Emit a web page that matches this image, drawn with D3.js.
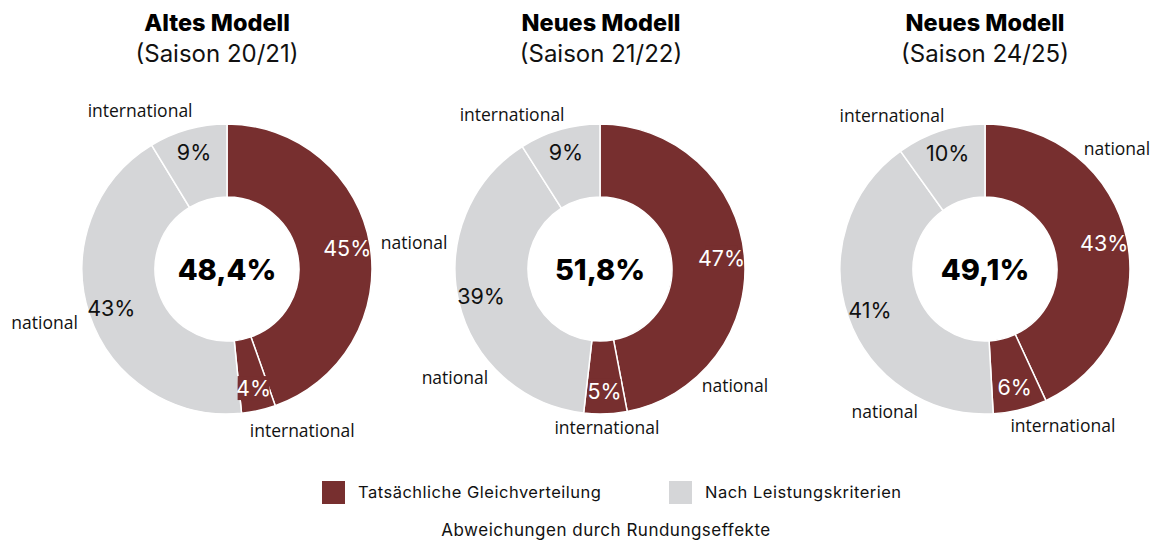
<!DOCTYPE html>
<html>
<head>
<meta charset="utf-8">
<script src="https://cdn.jsdelivr.net/npm/d3@7"></script>
<style>
  body { margin: 0; background: #ffffff; }
  svg { display: block; }
</style>
</head>
<body>
<svg id="chart" width="1154" height="541"></svg>
<script>
// --- Daten ---
const titles = ["Altes Modell", "Neues Modell", "Neues Modell"];
const seasons = ["(Saison 20/21)", "(Saison 21/22)", "(Saison 24/25)"];
const sliceNames = ["national", "international", "national", "international"];
const sliceGroups = ["Tatsächliche Gleichverteilung", "Tatsächliche Gleichverteilung", "Nach Leistungskriterien", "Nach Leistungskriterien"];
const values2021 = [44.6, 3.8, 42.9, 8.7];
const values2122 = [47.0, 4.8, 39.2, 9.0];
const values2425 = [43.1, 6.0, 41.0, 9.9];
const centerValues = [48.4, 51.8, 49.1];
const legendItems = ["Tatsächliche Gleichverteilung", "Nach Leistungskriterien"];
const note = "Abweichungen durch Rundungseffekte";

// Platzierung der äußeren Beschriftungen (Winkel in Grad, Abstand vom Mittelpunkt)
const outerAngles = [[81.8, 155, 253.8, 331.3], [130.7, 177.5, 233.3, 330.4], [47.5, 153.4, 215.2, 328.9]];
const outerDist = [[189, 178, 190, 181], [178, 158, 181, 178], [179, 174, 174, 180]];

const allValues = [values2021, values2122, values2425];
const centerX = [227, 600, 985];
const titleX = [217, 601, 985];
const centerY = 269;

const svg = d3.select("#chart");

const color = d3.scaleOrdinal()
    .domain(legendItems)
    .range(["#772f2f", "#d5d6d8"]);

const pie = d3.pie().sort(null).value(d => d);
const arc = d3.arc().innerRadius(72).outerRadius(145);
const labelArc = d3.arc().innerRadius(122).outerRadius(122);
const fmt = v => d3.format(".1f")(v).replace(".", ",") + "%";

allValues.forEach((vals, i) => {
    // Titel
    svg.append("text")
        .attr("x", titleX[i])
        .attr("y", 31)
        .attr("text-anchor", "middle")
        .style("font-family", "Inter, sans-serif")
        .style("font-weight", "800")
        .style("font-size", "23.5px")
        .style("fill", "#000")
        .text(titles[i]);

    svg.append("text")
        .attr("x", titleX[i])
        .attr("y", 62)
        .attr("text-anchor", "middle")
        .style("font-family", "Inter, sans-serif")
        .style("font-size", "24px")
        .style("fill", "#111")
        .text(seasons[i]);

    const g = svg.append("g")
        .attr("transform", `translate(${centerX[i]},${centerY})`);

    const arcs = pie(vals);

    g.selectAll(".slice")
        .data(arcs)
        .enter()
        .append("path")
        .attr("class", "slice")
        .attr("d", arc)
        .style("fill", (d, j) => color(sliceGroups[j]))
        .style("stroke", "#fff")
        .style("stroke-width", 1.5);

    // Prozent-Beschriftung in den Segmenten
    const lab = g.selectAll(".pct")
        .data(arcs)
        .enter()
        .append("g")
        .attr("class", "pct")
        .attr("transform", d => `translate(${labelArc.centroid(d)})`);

    lab.filter((d, j) => j < 2)
        .append("rect")
        .attr("x", -16)
        .attr("y", -12)
        .attr("width", 32)
        .attr("height", 24)
        .style("fill", color(legendItems[0]));

    lab.append("text")
        .attr("text-anchor", "middle")
        .attr("dominant-baseline", "central")
        .style("font-family", "Inter, sans-serif")
        .style("font-size", "21.5px")
        .style("fill", (d, j) => j < 2 ? "#fff" : "#111")
        .text(d => Math.round(d.data) + "%");

    // äußere Beschriftung
    g.selectAll(".outer")
        .data(arcs)
        .enter()
        .append("text")
        .attr("class", "outer")
        .attr("x", (d, j) => outerDist[i][j] * Math.sin(outerAngles[i][j] * Math.PI / 180))
        .attr("y", (d, j) => -outerDist[i][j] * Math.cos(outerAngles[i][j] * Math.PI / 180))
        .attr("text-anchor", "middle")
        .attr("dominant-baseline", "central")
        .style("font-family", "'Open Sans', sans-serif")
        .style("font-size", "17.5px")
        .style("fill", "#111")
        .text((d, j) => sliceNames[j]);

    // Wert in der Mitte
    g.append("text")
        .attr("text-anchor", "middle")
        .attr("dominant-baseline", "central")
        .style("font-family", "Inter, sans-serif")
        .style("font-weight", "800")
        .style("font-size", "29px")
        .style("fill", "#000")
        .text(fmt(centerValues[i]));
});

// Legende
const legendX = [322, 669];
const legend = svg.selectAll(".legend")
    .data(legendItems)
    .enter()
    .append("g")
    .attr("class", "legend")
    .attr("transform", (d, i) => `translate(${legendX[i]},481)`);

legend.append("rect")
    .attr("width", 23)
    .attr("height", 23)
    .style("fill", d => color(d));

legend.append("text")
    .attr("x", 36)
    .attr("y", 11)
    .attr("dominant-baseline", "central")
    .style("font-family", "Inter, sans-serif")
    .style("font-size", "16.5px")
    .style("letter-spacing", "0.5px")
    .style("fill", "#111")
    .text(d => d);

svg.append("text")
    .attr("x", 606)
    .attr("y", 530)
    .attr("text-anchor", "middle")
    .attr("dominant-baseline", "central")
    .style("font-family", "Inter, sans-serif")
    .style("font-size", "17px")
    .style("letter-spacing", "0.5px")
    .style("fill", "#111")
    .text(note);
</script>
</body>
</html>
